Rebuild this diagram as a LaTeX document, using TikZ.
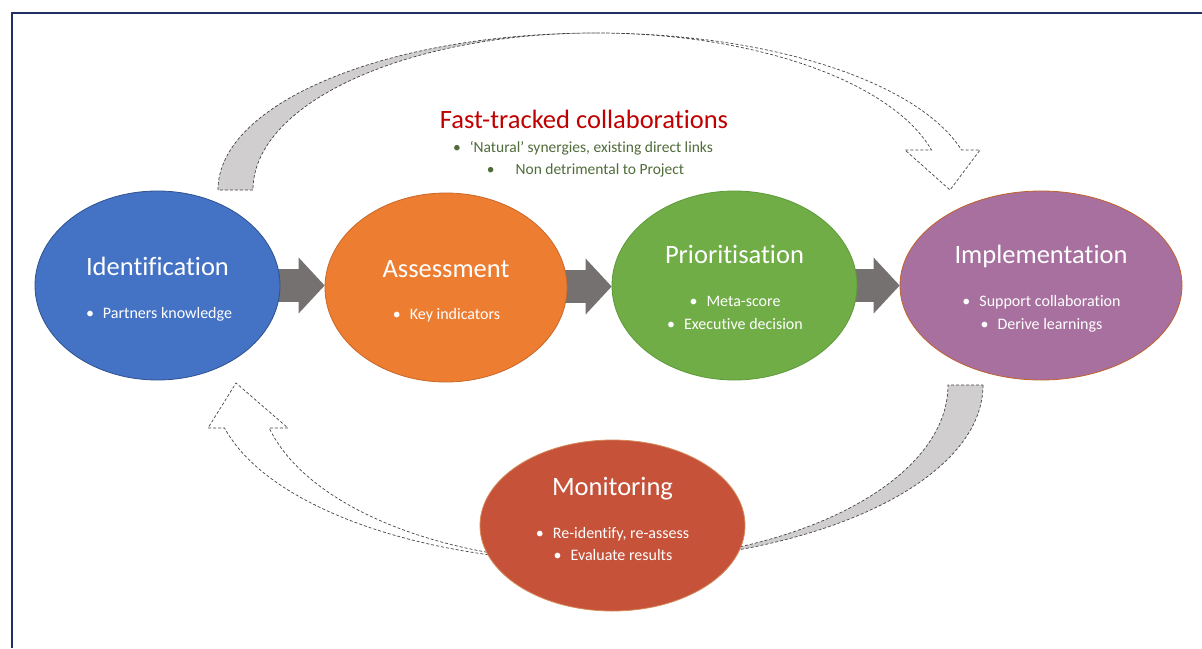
\documentclass[tikz,border=0pt]{standalone}
\usepackage{fontspec}
\setmainfont{Carlito}[Ligatures=CommonOff]
\usetikzlibrary{calc,arrows.meta,shapes.geometric}
\definecolor{cblue}{HTML}{4472C4}
\definecolor{cbluel}{HTML}{2F528F}
\definecolor{corange}{HTML}{ED7D31}
\definecolor{corangel}{HTML}{C9682A}
\definecolor{cgreen}{HTML}{70AD47}
\definecolor{cgreenl}{HTML}{5E9A3A}
\definecolor{cpurple}{HTML}{A8709F}
\definecolor{cpurplel}{HTML}{C0622A}
\definecolor{cmon}{HTML}{C65239}
\definecolor{cmonl}{HTML}{D58A5A}
\definecolor{barrow}{HTML}{767171}
\definecolor{rgray}{HTML}{D0CECE}
\definecolor{ftred}{HTML}{C00000}
\definecolor{ftgreen}{RGB}{80,108,58}
\definecolor{navy}{RGB}{32,48,100}
\definecolor{dashc}{RGB}{70,70,70}
\begin{document}
\begin{tikzpicture}[x=1pt,y=-1pt,
  ell/.style={ellipse, inner sep=0pt, line width=0.8pt},
  ttl/.style={text=white, font=\fontsize{26.5}{30}\selectfont, anchor=base, inner sep=0pt},
  bul/.style={text=white, font=\fontsize{16}{19}\selectfont, anchor=base, inner sep=0pt},
  ribbon/.style={draw=dashc, densely dashed, line width=0.7pt},
  blk/.style={draw=barrow, line width=33pt, -{Triangle[length=26pt,width=56pt,line width=0pt]}},
  ftitle/.style={text=ftred, font=\fontsize{26.5}{30}\selectfont, anchor=base, inner sep=0pt},
  fbul/.style={text=ftgreen, font=\fontsize{15.5}{18}\selectfont, anchor=base, inner sep=0pt}]
\useasboundingbox (0,0) rectangle (1202,648);
\fill[white] (0,0) rectangle (1202,648);
% frame
\draw[navy, line width=1.6pt] (12,648) -- (12,13) -- (1202,13);

% top curved ribbon
\path[ribbon, fill=rgray] (218,190)
  arc[start angle=180, end angle=270, x radius=378, y radius=157]
  arc[start angle=270, end angle=180, x radius=343, y radius=157] -- cycle;
\path[ribbon, fill=white] (596,33)
  arc[start angle=270, end angle=345.24, x radius=378, y radius=157]
  -- (980,150) -- (950,190) -- (905,150) -- (931.5,150)
  arc[start angle=345.24, end angle=270, x radius=347, y radius=157] -- cycle;

% bottom curved ribbon
\path[ribbon, fill=rgray] (983,385)
  arc[start angle=0, end angle=90, x radius=385, y radius=177]
  arc[start angle=90, end angle=0, x radius=350, y radius=177] -- cycle;
\path[ribbon, fill=white] (598,562)
  arc[start angle=90, end angle=165.94, x radius=385, y radius=177]
  -- (208,428) -- (236,383) -- (288,428) -- (269.2,428)
  arc[start angle=165.94, end angle=90, x radius=339, y radius=177] -- cycle;

% ellipse nodes (placed, then arrows, then drawn on top)
\path (157.5,285.5) node[ell, minimum width=245pt, minimum height=189pt] (id) {};
\path (446,287.5) node[ell, minimum width=242pt, minimum height=189pt] (as) {};
\path (734.5,285.5) node[ell, minimum width=245pt, minimum height=189pt] (pr) {};
\path (1041,285.5) node[ell, minimum width=282pt, minimum height=189pt] (im) {};

% block arrows
\draw[blk] ($(id.east)+(-12,0)$) -- (as.west |- id.east);
\draw[blk] ($(as.east)+(-12,-1)$) -- ($(pr.west |- as.east)+(0,-1)$);
\draw[blk] ($(pr.east)+(-12,0)$) -- (im.west |- pr.east);

\node[ell, fill=cblue, draw=cbluel, minimum width=245pt, minimum height=189pt] at (id) {};
\node[ell, fill=corange, draw=corangel, minimum width=242pt, minimum height=189pt] at (as) {};
\node[ell, fill=cgreen, draw=cgreenl, minimum width=245pt, minimum height=189pt] at (pr) {};
\node[ell, fill=cpurple, draw=cpurplel, minimum width=282pt, minimum height=189pt] at (im) {};
\node[ell, fill=cmon, draw=cmonl, minimum width=265pt, minimum height=171pt] (mo) at (612.5,525.5) {};

% texts
\node[ttl] (idt) at ($(id.center)+(0,-10.5)$) {Identification};
\node[bul] (idb) at ($(id.center)+(1.5,32.5)$) {•\hspace{9pt}Partners knowledge};

\node[ttl] (ast) at ($(as.center)+(0,-10.5)$) {Assessment};
\node[bul] (asb) at ($(as.center)+(0.5,31.5)$) {•\hspace{9pt}Key indicators};

\node[ttl] (prt) at ($(pr.center)+(0,-22.5)$) {Prioritisation};
\node[bul] (prb1) at ($(pr.center)+(0.5,20.5)$) {•\hspace{9pt}Meta-score};
\node[bul] (prb2) at ($(pr.center)+(0.5,43.5)$) {•\hspace{9pt}Executive decision};

\node[ttl] (imt) at ($(im.center)+(0,-22.5)$) {Implementation};
\node[bul] (imb1) at ($(im.center)+(0.5,20.5)$) {•\hspace{9pt}Support collaboration};
\node[bul] (imb2) at ($(im.center)+(0.5,43.5)$) {•\hspace{9pt}Derive learnings};

\node[ttl] (mot) at ($(mo.center)+(0,-30.5)$) {Monitoring};
\node[bul] (mob1) at ($(mo.center)+(0,12.5)$) {•\hspace{9pt}Re-identify, re-assess};
\node[bul] (mob2) at ($(mo.center)+(0.5,34.5)$) {•\hspace{9pt}Evaluate results};

\node[ftitle] (ft) at (584,128) {Fast-tracked collaborations};
\node[fbul] (ft1) at (583,152.5) {•\hspace{9pt}‘Natural’ synergies, existing direct links};
\node[fbul] (ft2) at (585.5,174.5) {•\hspace{21pt}Non detrimental to Project};
\end{tikzpicture}
\end{document}
